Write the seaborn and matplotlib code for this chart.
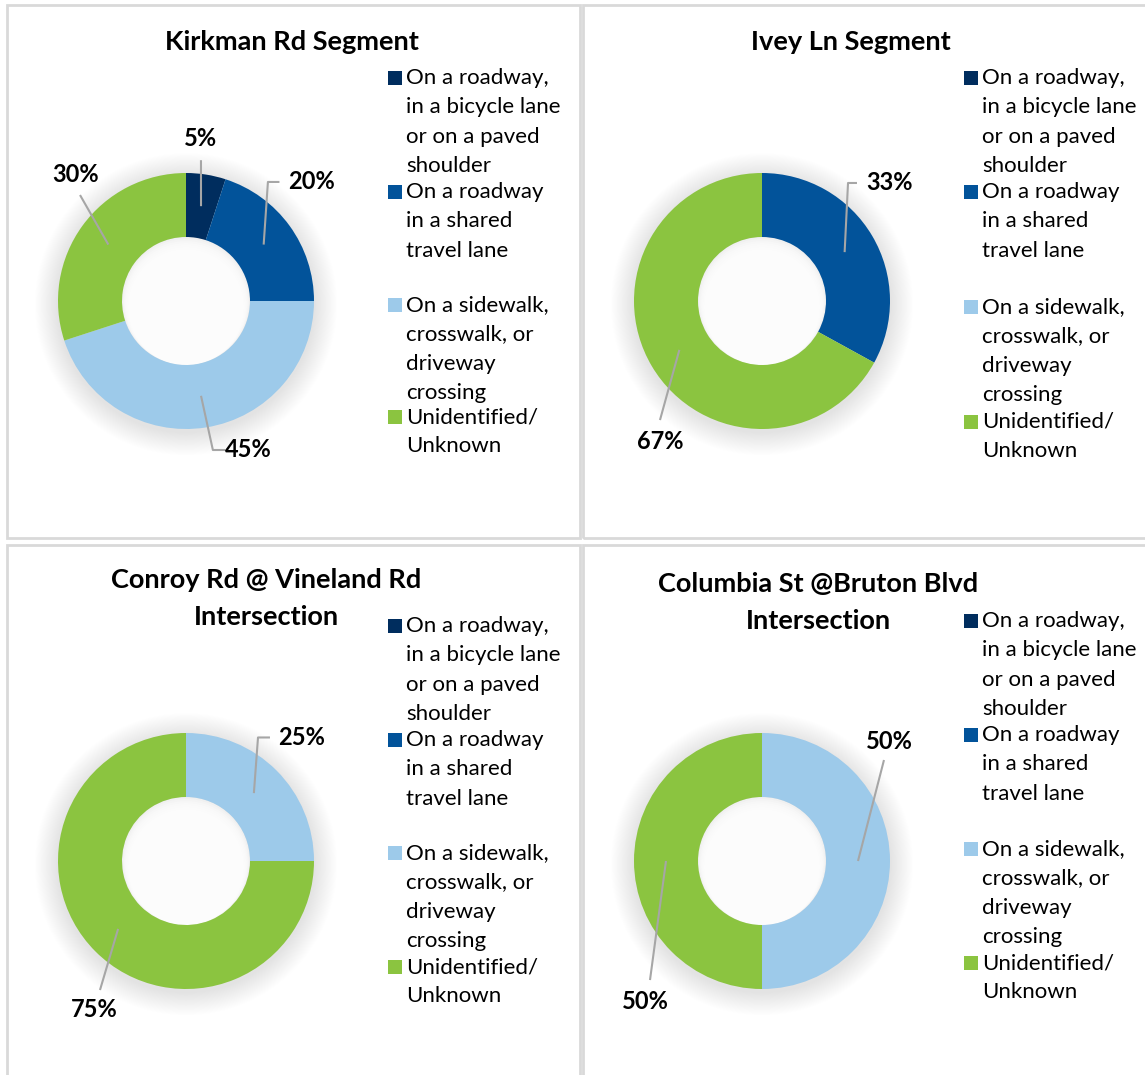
import matplotlib
matplotlib.use("Agg")
import matplotlib.pyplot as plt
import seaborn as sns
from matplotlib.patches import Rectangle, Circle
import numpy as np

# ---------------- data ----------------
categories = [
    "On a roadway,\nin a bicycle lane\nor on a paved\nshoulder",
    "On a roadway\nin a shared\ntravel lane",
    "On a sidewalk,\ncrosswalk, or\ndriveway\ncrossing",
    "Unidentified/\nUnknown",
]
titles = [
    "Kirkman Rd Segment",
    "Ivey Ln Segment",
    "Conroy Rd @ Vineland Rd\nIntersection",
    "Columbia St @Bruton Blvd\nIntersection",
]
kirkman = [5, 20, 45, 30]
ivey = [0, 33, 0, 67]
conroy = [0, 0, 25, 75]
columbia = [0, 0, 50, 50]
series = [kirkman, ivey, conroy, columbia]
colors = ["#002D5E", "#02539A", "#9DCAEA", "#8BC440"]

# ---------------- layout (pixels) ----------------
W, H = 1145, 1075
R = 128.0
centers = [(186, 301), (762, 301), (186, 861), (762, 861)]
title_pos = [(292, 42), (851, 42), (266, 580), (818, 584)]
legend_x = [388, 964, 388, 964]
legend_y = [[78, 192, 305, 417], [78, 192, 307, 422],
            [626, 740, 853, 967], [621, 735, 849, 963]]
panels = [(7, 5, 580, 538), (583, 5, 1160, 538),
          (7, 545, 580, 1090), (583, 545, 1160, 1090)]
# label layout in ring units: index -> (label xy, leader points after anchor)
label_layout = [
    {0: ((0.117, 1.266), [(0.117, 1.10)]),
     1: ((0.977, 0.93), [(0.64, 0.93), (0.73, 0.93)]),
     2: ((0.484, -1.164), [(0.21, -1.164), (0.305, -1.164)]),
     3: ((-0.859, 0.992), [(-0.828, 0.828)])},
    {1: ((1.0, 0.922), [(0.672, 0.922), (0.742, 0.922)]),
     3: ((-0.797, -1.094), [(-0.797, -0.93)])},
    {2: ((0.906, 0.965), [(0.5625, 0.965), (0.656, 0.965)]),
     3: ((-0.719, -1.164), [(-0.672, -1.008)])},
    {2: ((0.992, 0.93), [(0.953, 0.789)]),
     3: ((-0.914, -1.094), [(-0.875, -0.93)])},
]

sns.set_theme(style="white")
FONT = ["Lato", "DejaVu Sans"]
plt.rcParams["font.family"] = FONT
palette = sns.color_palette(colors)

fig = plt.figure(figsize=(W / 100, H / 100), dpi=100)
fig.patch.set_facecolor("white")


def fx(x):
    return x / W


def fy(y):
    return 1 - y / H


# panel borders
for (x0, y0, x1, y1) in panels:
    fig.add_artist(Rectangle((fx(x0), fy(y1)), (x1 - x0) / W, (y1 - y0) / H,
                             transform=fig.transFigure, fill=False,
                             edgecolor="#D9D9D9", linewidth=2, zorder=0))

BOX = 420
lim = BOX / 2 / R
line_h = 29.3

for i, vals in enumerate(series):
    cx, cy = centers[i]
    ax = fig.add_axes([fx(cx - BOX / 2), fy(cy + BOX / 2), BOX / W, BOX / H])
    ax.axis("off")
    ax.patch.set_alpha(0)

    # soft outer shadow
    n_sh = 28
    for k in range(n_sh):
        r = 1.0 + 0.0065 * (k + 1)
        ax.add_patch(Circle((0.0, -0.025), r, color="black", alpha=0.0055, lw=0, zorder=0))
    wedges, _ = ax.pie(vals, colors=palette, startangle=90, counterclock=False,
                       radius=1.0, wedgeprops=dict(width=0.5, linewidth=0),
                       normalize=True)
    for w in wedges:
        w.set_zorder(2)
    # faint shade inside the hole
    ax.add_patch(Circle((0.0, 0.0), 0.5, color="#F0F0F0", lw=0, zorder=1.4))
    for k in range(10):
        r = 0.5 - 0.008 * (k + 1)
        ax.add_patch(Circle((0.0, -0.008 * (k + 1)), r, color="white", alpha=0.3,
                            lw=0, zorder=1.5))

    ax.set_xlim(-lim, lim)
    ax.set_ylim(-lim, lim)
    ax.set_aspect("equal")

    # data labels with leader lines
    total = float(sum(vals))
    cum = 0.0
    for j, v in enumerate(vals):
        if v > 0 and j in label_layout[i]:
            mid = cum + v / 2.0
            ang = np.deg2rad(90 - 360 * mid / total)
            anchor = (0.75 * np.cos(ang), 0.75 * np.sin(ang))
            (lx, ly), pts = label_layout[i][j]
            xs = [anchor[0]] + [p[0] for p in pts]
            ys = [anchor[1]] + [p[1] for p in pts]
            ax.plot(xs, ys, color="#A6A6A6", lw=1.5, zorder=3, clip_on=False,
                    solid_capstyle="butt")
            ax.text(lx, ly, f"{v / total * 100:.0f}%", ha="center", va="center",
                    fontsize=17, fontweight="bold", color="black", zorder=4,
                    clip_on=False)
        cum += v

    # title
    tx, ty = title_pos[i]
    for k, line in enumerate(titles[i].split("\n")):
        fig.text(fx(tx), fy(ty + 37 * k), line, ha="center", va="center",
                 fontsize=19.5, fontweight="bold", color="black")

    # legend
    lx0 = legend_x[i]
    for j, cat in enumerate(categories):
        y0 = legend_y[i][j]
        fig.add_artist(Rectangle((fx(lx0), fy(y0 + 7)), 14 / W, 14 / H,
                                 transform=fig.transFigure, facecolor=palette[j],
                                 edgecolor="none"))
        for k, line in enumerate(cat.split("\n")):
            fig.text(fx(lx0 + 18), fy(y0 + line_h * k), line, ha="left",
                     va="center", fontsize=16, color="black")

fig.savefig("out.png", dpi=100, facecolor="white")
